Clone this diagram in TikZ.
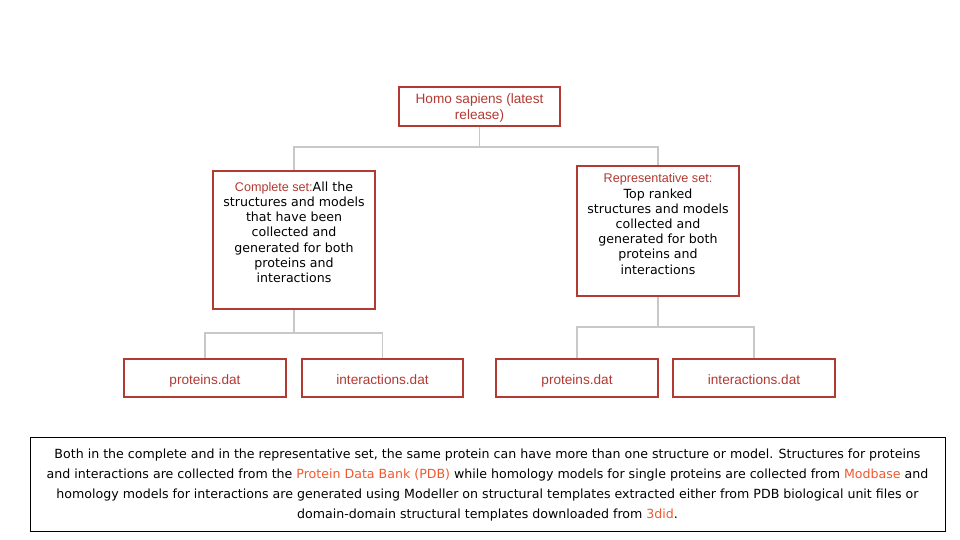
\documentclass[tikz,border=0pt]{standalone}
\usepackage{fontspec}
\newfontfamily\vfont{DejaVu Sans}
\newfontfamily\rfont{Liberation Sans}
\definecolor{boxred}{HTML}{B23A32}
\definecolor{txtred}{HTML}{B23A32}
\definecolor{linkor}{HTML}{F0582E}
\definecolor{conngray}{HTML}{C8C8C8}
\tikzset{
  box/.style={draw=boxred, line width=1.6pt, fill=white, inner sep=0pt},
  redtxt/.style={text=txtred, font=\rfont\fontsize{13.6}{16}\selectfont},
  leaftxt/.style={redtxt, text height=10pt, text depth=3pt},
  blktxt/.style={align=center, font=\vfont\fontsize{12.6}{15.2}\selectfont},
  conn/.style={draw=conngray, line width=1.8pt},
}
\begin{document}
\begin{tikzpicture}[x=1pt,y=-1pt]
\useasboundingbox (0,0) rectangle (960,540);
% boxes
\node[box, minimum width=161, minimum height=39] (top) at (479.5,106.5) {};
\node[redtxt, align=center] (toptxt) at ([yshift=-1]top.center) {Homo sapiens (latest\\release)};
\node[box, minimum width=162, minimum height=138] (comp) at (294,240) {};
\node[blktxt, anchor=north] (comptxt) at ([yshift=-8]comp.north) {{\rfont\color{txtred}Complete set:}All the\\structures and models\\that have been\\collected and\\generated for both\\proteins and\\interactions};
\node[box, minimum width=162, minimum height=130] (rep) at (658,231) {};
\node[blktxt, anchor=north] (reptxt) at ([yshift=-5]rep.north) {{\rfont\color{txtred}Representative set:}\\Top ranked\\structures and models\\collected and\\generated for both\\proteins and\\interactions};
\node[box, minimum width=162, minimum height=38] (p1) at (205,378) {};
\node[box, minimum width=161, minimum height=38] (i1) at (382.5,378) {};
\node[box, minimum width=162, minimum height=38] (p2) at (577,378) {};
\node[box, minimum width=162, minimum height=38] (i2) at (754,378) {};
\node[leaftxt] (p1t) at ([yshift=-2.5]p1.center) {proteins.dat};
\node[leaftxt] (i1t) at ([yshift=-2.5]i1.center) {interactions.dat};
\node[leaftxt] (p2t) at ([yshift=-2.5]p2.center) {proteins.dat};
\node[leaftxt] (i2t) at ([yshift=-2.5]i2.center) {interactions.dat};
% connectors
\coordinate (j0) at (479.5,147);
\coordinate (j1) at (294,333);
\coordinate (j2) at (658,327);
\draw[conn] (top.south) -- (j0) -| (comp.north);
\draw[conn] (j0) -| (rep.north);
\draw[conn] (comp.south) -- (j1) -| (p1.north);
\draw[conn] (j1) -| (i1.north);
\draw[conn] (rep.south) -- (j2) -| (p2.north);
\draw[conn] (j2) -| (i2.north);
% note
\node[draw=black, line width=1pt, minimum width=915, minimum height=94, inner sep=0pt] (note) at (487.5,484) {};
\node[align=center, font=\vfont\fontsize{12.6}{19.8}\selectfont] (notetxt) at ([yshift=-1]note.center) {Both in the complete and in the representative set, the same protein can have more than one structure or model. Structures for proteins\\and interactions are collected from the {\color{linkor}Protein Data Bank (PDB)} while homology models for single proteins are collected from {\color{linkor}Modbase} and\\homology models for interactions are generated using Modeller on structural templates extracted either from PDB biological unit files or\\domain-domain structural templates downloaded from {\color{linkor}3did}.};
\end{tikzpicture}
\end{document}
